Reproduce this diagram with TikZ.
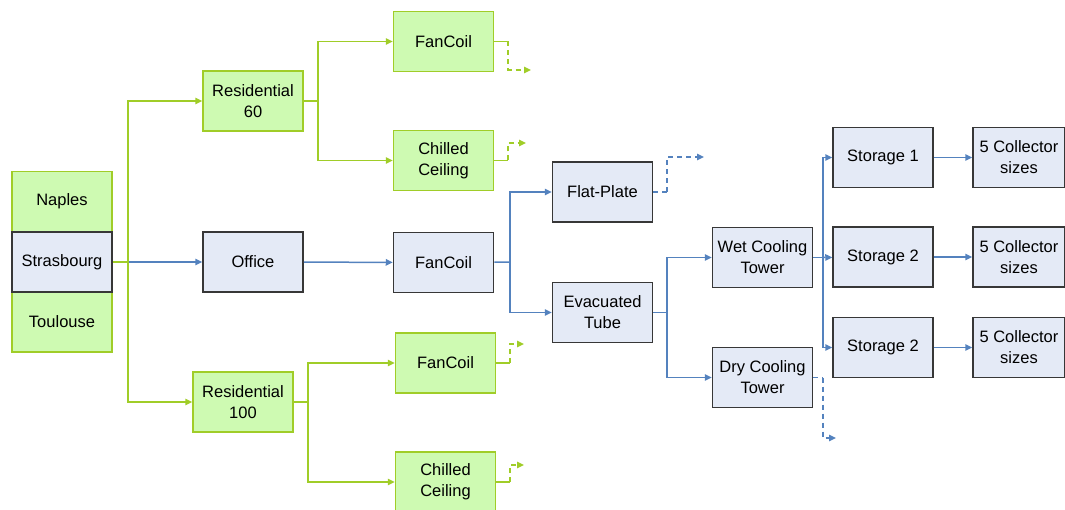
\documentclass[tikz,border=0pt]{standalone}
\usepackage{fontspec}
\setmainfont{Liberation Sans}
\usepackage{xcolor}
\usetikzlibrary{arrows.meta, positioning}

\definecolor{greenfill}{RGB}{206,250,178}
\definecolor{greenline}{RGB}{160,205,40}
\definecolor{bluefill}{RGB}{228,234,246}
\definecolor{blueline}{RGB}{84,130,190}
\definecolor{boxedge}{RGB}{55,55,55}

\begin{document}
\begin{tikzpicture}[
    x=1pt, y=-1pt,
    greenbox/.style={rectangle, draw=greenline, fill=greenfill, line width=1.5pt, minimum width=100pt, minimum height=60pt, align=center, font=\fontsize{16.5}{21}\selectfont},
    bluebox/.style={rectangle, draw=boxedge, fill=bluefill, line width=1.5pt, minimum width=100pt, minimum height=60pt, align=center, font=\fontsize{16.5}{21}\selectfont},
    gline/.style={draw=greenline, line width=1.5pt},
    garrow/.style={gline, -{Triangle[length=7pt, width=6.5pt]}},
    bline/.style={draw=blueline, line width=1.5pt},
    barrow/.style={bline, -{Triangle[length=7pt, width=6.5pt]}},
    loose/.style={dashed, dash pattern=on 5pt off 4pt}
]
    \useasboundingbox (0,0) rectangle (1065,510);

    % cities
    \node[greenbox] (naples) at (62,201.5) {Naples};
    \node[greenbox] (toulouse) at (62,322) {Toulouse};
    \node[bluebox] (strasbourg) at (62,262) {Strasbourg};

    % buildings
    \node[greenbox] (res60) at (253,101) {Residential\\60};
    \node[bluebox] (office) at (253,262) {Office};
    \node[greenbox] (res100) at (243,402) {Residential\\100};

    % terminal units
    \node[greenbox] (fancoilA) at (443.5,41.5) {FanCoil};
    \node[greenbox] (chilledA) at (443.5,160.5) {Chilled\\Ceiling};
    \node[bluebox] (fancoilB) at (443.5,262.5) {FanCoil};
    \node[greenbox] (fancoilC) at (445.5,363) {FanCoil};
    \node[greenbox] (chilledC) at (445.5,482) {Chilled\\Ceiling};

    % collectors
    \node[bluebox] (flatplate) at (602.5,192) {Flat-Plate};
    \node[bluebox] (evac) at (602.5,312.5) {Evacuated\\Tube};

    % cooling towers
    \node[bluebox] (wet) at (762.5,257.5) {Wet Cooling\\Tower};
    \node[bluebox] (dry) at (762.5,377.5) {Dry Cooling\\Tower};

    % storage and sizes
    \node[bluebox] (stor1) at (883,157.5) {Storage 1};
    \node[bluebox] (stor2) at (883,257) {Storage 2};
    \node[bluebox] (stor3) at (883,347.5) {Storage 2};
    \node[bluebox, minimum width=92pt] (coll1) at (1019,157.5) {5 Collector\\sizes};
    \node[bluebox, minimum width=92pt] (coll2) at (1019,257) {5 Collector\\sizes};
    \node[bluebox, minimum width=92pt] (coll3) at (1019,347.5) {5 Collector\\sizes};

    % split points
    \coordinate (citysplit) at (128,262);
    \coordinate (res60split) at (318,101);
    \coordinate (res100split) at (308,402);
    \coordinate (fcsplit) at (510,262);
    \coordinate (evacsplit) at (667,312.5);
    \coordinate (wetsplit) at (823,257.5);

    % loose ends
    \coordinate (fcAknee) at (508,41.5);
    \coordinate (fcAend) at (531,70);
    \coordinate (chAknee) at (508,160.5);
    \coordinate (chAend) at (526,143);
    \coordinate (fcCknee) at (510,363);
    \coordinate (fcCend) at (524,344);
    \coordinate (chCknee) at (510,482);
    \coordinate (chCend) at (524,465);
    \coordinate (flatknee) at (667,192);
    \coordinate (flatend) at (704,157);
    \coordinate (dryknee) at (823,377.5);
    \coordinate (dryend) at (836,438);

    \draw[barrow] (citysplit) -- (office);
    \draw[gline] (strasbourg) -- (citysplit);
    \draw[garrow] (citysplit) |- (res60);
    \draw[garrow] (citysplit) |- (res100);

    \draw[gline] (res60) -- (res60split);
    \draw[garrow] (res60split) |- (fancoilA);
    \draw[garrow] (res60split) |- (chilledA);
    \draw[gline] (res100) -- (res100split);
    \draw[garrow] (res100split) |- (fancoilC);
    \draw[garrow] (res100split) |- (chilledC);

    \draw[gline] (fancoilA) -- (fcAknee);
    \draw[garrow, loose] (fcAknee) |- (fcAend);
    \draw[gline] (chilledA) -- (chAknee);
    \draw[garrow, loose] (chAknee) |- (chAend);
    \draw[gline] (fancoilC) -- (fcCknee);
    \draw[garrow, loose] (fcCknee) |- (fcCend);
    \draw[gline] (chilledC) -- (chCknee);
    \draw[garrow, loose] (chCknee) |- (chCend);

    \draw[barrow] (office) -- (fancoilB);
    \draw[bline] (fancoilB) -- (fcsplit);
    \draw[barrow] (fcsplit) |- (flatplate);
    \draw[barrow] (fcsplit) |- (evac);
    \draw[bline, loose] (flatplate) -- (flatknee);
    \draw[barrow, loose] (flatknee) |- (flatend);

    \draw[bline] (evac) -- (evacsplit);
    \draw[barrow] (evacsplit) |- (wet);
    \draw[barrow] (evacsplit) |- (dry);
    \draw[bline, loose] (dry) -- (dryknee);
    \draw[barrow, loose] (dryknee) |- (dryend);

    \draw[bline] (wet) -- (wetsplit);
    \draw[barrow] (wetsplit) |- (stor1);
    \draw[barrow] (wetsplit) -- (stor2);
    \draw[barrow] (wetsplit) |- (stor3);

    \draw[barrow] (stor1) -- (coll1);
    \draw[barrow] (stor2) -- (coll2);
    \draw[barrow] (stor3) -- (coll3);
\end{tikzpicture}
\end{document}
